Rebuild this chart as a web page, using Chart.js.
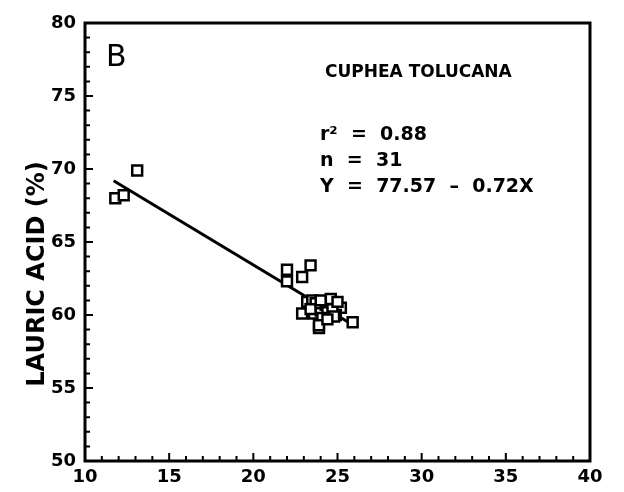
<!DOCTYPE html>
<html>
<head>
<meta charset="utf-8">
<script src="https://cdn.jsdelivr.net/npm/chart.js@4/dist/chart.umd.min.js"></script>
<style>
  body { margin: 0; background: #fff; }
</style>
</head>
<body>
<canvas id="lauricChart" width="624" height="492"></canvas>
<script>
// seed temperature / lauric acid readings
var seedX = [11.8, 12.3, 13.1,
  22.0, 22.0, 22.9, 23.4,
  23.2, 22.9, 23.8, 23.9, 24.5, 25.2, 24.9, 25.9, 24.2, 23.6, 23.5, 24.0,
  24.3, 24.6, 24.4, 23.7, 24.7, 24.1, 25.0, 23.9, 24.8, 23.4, 24.4, 24.0];
var lauricY = [68.0, 68.2, 69.9,
  63.1, 62.3, 62.6, 63.4,
  60.9, 60.1, 60.6, 59.1, 60.8, 60.5, 60.0, 59.5, 60.0, 60.1, 61.0, 60.3,
  60.7, 61.1, 60.2, 60.8, 60.4, 59.8, 60.9, 59.3, 59.9, 60.4, 59.7, 61.0];

// fitted line ends as drawn
var fitX = [11.7, 25.8];
var fitY = [69.2, 59.4];

var xTicks = [10, 15, 20, 25, 30, 35, 40];
var yTicks = [50, 55, 60, 65, 70, 75, 80];

var infoLines = ["r\u00B2  =  0.88", "n  =  31", "Y  =  77.57  \u2013  0.72X"];

var points = seedX.map(function (x, i) { return { x: x, y: lauricY[i] }; });
var fitLine = fitX.map(function (x, i) { return { x: x, y: fitY[i] }; });

var tickFont = { family: "DejaVu Sans", size: 18, weight: "bold" };

// frame + inward tick marks, plus the text on the chart
var framePlugin = {
  id: "framePlugin",
  afterDraw: function (chart) {
    var ctx = chart.ctx;
    var a = chart.chartArea;
    var xs = chart.scales.x;
    var ys = chart.scales.y;
    ctx.save();
    ctx.strokeStyle = "#000";
    ctx.lineWidth = 3;
    ctx.strokeRect(a.left, a.top, a.right - a.left, a.bottom - a.top);

    ctx.lineWidth = 2;
    ctx.beginPath();
    for (var v = 10; v <= 40; v++) {
      var px = xs.getPixelForValue(v);
      var len = v % 5 === 0 ? 8 : 5;
      ctx.moveTo(px, a.bottom);
      ctx.lineTo(px, a.bottom - len);
    }
    for (var w = 50; w <= 80; w++) {
      var py = ys.getPixelForValue(w);
      var len2 = w % 5 === 0 ? 8 : 5;
      ctx.moveTo(a.left, py);
      ctx.lineTo(a.left + len2, py);
    }
    ctx.stroke();

    ctx.fillStyle = "#000";
    ctx.textBaseline = "alphabetic";
    ctx.textAlign = "left";
    ctx.font = "30px 'DejaVu Sans'";
    ctx.fillText("B", 106, 66);

    ctx.font = "bold 17px 'DejaVu Sans'";
    ctx.fillText("CUPHEA TOLUCANA", 325, 77);
    ctx.font = "bold 19px 'DejaVu Sans'";
    for (var i = 0; i < infoLines.length; i++) {
      ctx.fillText(infoLines[i], 320, 140 + i * 26);
    }

    // y axis title
    ctx.translate(38, 274);
    ctx.rotate(-Math.PI / 2);
    ctx.textAlign = "center";
    ctx.textBaseline = "middle";
    ctx.font = "bold 24px 'DejaVu Sans'";
    ctx.fillText("LAURIC ACID (%)", 0, 0);
    ctx.restore();
  }
};

var lauricCtx = document.getElementById("lauricChart").getContext("2d");

var lauricChart = new Chart(lauricCtx, {
  type: "scatter",
  data: {
    datasets: [
      {
        label: "Cuphea tolucana",
        data: points,
        pointStyle: "rect",
        pointRadius: 7,
        pointBorderWidth: 2.5,
        pointBorderColor: "#000",
        pointBackgroundColor: "#fff",
      },
      {
        type: "line",
        label: "fit",
        data: fitLine,
        borderColor: "#000",
        borderWidth: 3,
        pointRadius: 0,
        fill: false,
      },
    ],
  },
  options: {
    responsive: false,
    animation: false,
    layout: { padding: { top: 23, right: 34, left: 0, bottom: 0 } },
    plugins: {
      legend: { display: false },
      tooltip: { enabled: false },
    },
    scales: {
      x: {
        type: "linear",
        min: 10,
        max: 40,
        afterBuildTicks: function (scale) {
          scale.ticks = xTicks.map(function (v) { return { value: v }; });
        },
        afterFit: function (scale) { scale.height = 31; },
        ticks: { color: "#000", font: tickFont, padding: 6, maxRotation: 0 },
        grid: { display: false, drawTicks: false },
        border: { display: false },
      },
      y: {
        min: 50,
        max: 80,
        afterBuildTicks: function (scale) {
          scale.ticks = yTicks.map(function (v) { return { value: v }; });
        },
        afterFit: function (scale) { scale.width = 85; },
        ticks: { color: "#000", font: tickFont, padding: 9 },
        grid: { display: false, drawTicks: false },
        border: { display: false },
      },
    },
  },
  plugins: [framePlugin],
});
</script>
</body>
</html>
